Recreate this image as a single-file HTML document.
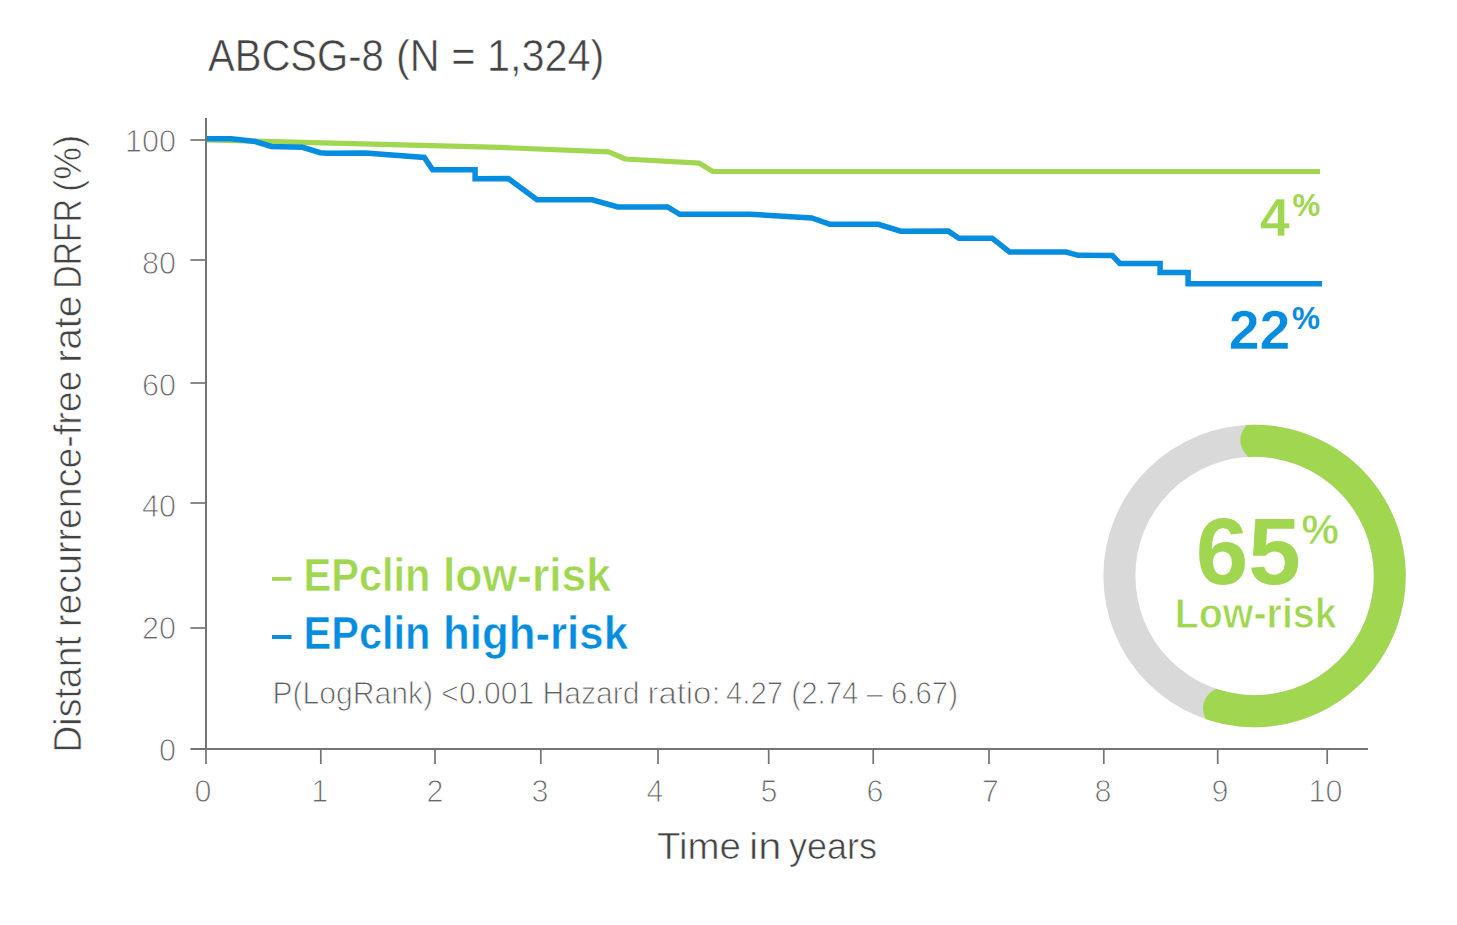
<!DOCTYPE html>
<html>
<head>
<meta charset="utf-8">
<style>
html,body{margin:0;padding:0;background:#fff;width:1457px;height:925px;overflow:hidden;}
svg{display:block;}
text{font-family:"Liberation Sans", sans-serif;}
</style>
</head>
<body>
<svg width="1457" height="925" viewBox="0 0 1457 925">
  <!-- title -->
  <g font-size="45" fill="#444" stroke="#fff" stroke-width="0.55">
    <text id="t1" x="208.0" y="70.7" textLength="175.8" lengthAdjust="spacingAndGlyphs">ABCSG-8</text>
    <text id="t2" x="396.0" y="70.7" textLength="208.4" lengthAdjust="spacingAndGlyphs">(N = 1,324)</text>
  </g>

  <!-- y axis title -->
  <g transform="translate(81.3,0) rotate(-90)" font-size="38.3" fill="#444" stroke="#fff" stroke-width="0.65">
    <text id="yt1" x="-752.8" y="0" textLength="116.8" lengthAdjust="spacingAndGlyphs">Distant</text>
    <text id="yt2" x="-627.0" y="0" textLength="256.4" lengthAdjust="spacingAndGlyphs">recurrence-free</text>
    <text id="yt3" x="-362.8" y="0" textLength="67.2" lengthAdjust="spacingAndGlyphs">rate</text>
    <text id="yt4" x="-288.8" y="0" textLength="89.6" lengthAdjust="spacingAndGlyphs">DRFR</text>
    <text id="yt5" x="-192.0" y="0" textLength="57.2" lengthAdjust="spacingAndGlyphs">(%)</text>
  </g>

  <!-- axes -->
  <g stroke="#747474" stroke-width="2" fill="none">
    <line x1="206" y1="118" x2="206" y2="750"/>
    <line x1="190.4" y1="749" x2="1368" y2="749"/>
  </g>
  <g stroke="#747474" stroke-width="1.7" fill="none">
    <line x1="190.4" y1="140" x2="206" y2="140"/>
    <line x1="190.4" y1="260" x2="206" y2="260"/>
    <line x1="190.4" y1="383" x2="206" y2="383"/>
    <line x1="190.4" y1="503" x2="206" y2="503"/>
    <line x1="190.4" y1="628" x2="206" y2="628"/>
    <line x1="206" y1="749" x2="206" y2="764"/>
    <line x1="320.8" y1="749" x2="320.8" y2="764"/>
    <line x1="435" y1="749" x2="435" y2="764"/>
    <line x1="540.8" y1="749" x2="540.8" y2="764"/>
    <line x1="658" y1="749" x2="658" y2="764"/>
    <line x1="768.7" y1="749" x2="768.7" y2="764"/>
    <line x1="873.2" y1="749" x2="873.2" y2="764"/>
    <line x1="989" y1="749" x2="989" y2="764"/>
    <line x1="1103.8" y1="749" x2="1103.8" y2="764"/>
    <line x1="1217.7" y1="749" x2="1217.7" y2="764"/>
    <line x1="1327.2" y1="749" x2="1327.2" y2="764"/>
  </g>

  <!-- y tick labels -->
  <g font-size="30.5" fill="#686868" stroke="#fff" stroke-width="0.9" text-anchor="end">
    <text x="176" y="151.8">100</text>
    <text x="176" y="274.3">80</text>
    <text x="176" y="395.7">60</text>
    <text x="176" y="517">40</text>
    <text x="176" y="639">20</text>
    <text x="176" y="760.8">0</text>
  </g>
  <!-- x tick labels -->
  <g font-size="30.5" fill="#686868" stroke="#fff" stroke-width="0.9" text-anchor="middle">
    <text x="203" y="802">0</text>
    <text x="319.7" y="802">1</text>
    <text x="435" y="802">2</text>
    <text x="540" y="802">3</text>
    <text x="655" y="802">4</text>
    <text x="769" y="802">5</text>
    <text x="875" y="802">6</text>
    <text x="990.5" y="802">7</text>
    <text x="1103" y="802">8</text>
    <text x="1220" y="802">9</text>
    <text x="1325.5" y="802">10</text>
  </g>

  <!-- x axis title -->
  <g font-size="37.5" fill="#444" stroke="#fff" stroke-width="0.6">
    <text id="xt1" x="657.0" y="859" textLength="84.0" lengthAdjust="spacingAndGlyphs">Time</text>
    <text id="xt2" x="749.0" y="859" textLength="32.4" lengthAdjust="spacingAndGlyphs">in</text>
    <text id="xt3" x="789.0" y="859" textLength="88.0" lengthAdjust="spacingAndGlyphs">years</text>
  </g>

  <!-- curves -->
  <polyline fill="none" stroke="#a0d650" stroke-width="5.2" stroke-linejoin="round"
    points="207,140 500,147.4 608.7,151.9 625.3,159 699.3,163.2 712.9,171.5 1320,171.5"/>
  <polyline fill="none" stroke="#078de0" stroke-width="5.5" stroke-linejoin="miter"
    points="207,138.8 231.2,138.8 255.3,141.5 271.4,146.4 302.6,147.3 320.4,152.7 326.9,153.3 365.3,153.1 424.3,157.5 432.6,169.8 475.1,169.8 475.1,178.7 508.3,178.6 537,199.8 592.1,199.8 617.8,207 667.6,207 679.7,214.3 749.8,214.2 811.7,218 829.9,224.3 878.2,224.3 900.8,231.2 948.3,231.1 958.9,238.2 992.1,238.2 1009.5,252 1066.1,252 1078.2,255.3 1112.4,255.6 1119.8,263.4 1160.1,263.4 1160.1,272.6 1188.1,272.6 1188.1,283.7 1322,283.7"/>

  <!-- end percentages -->
  <text id="p4" x="1260.0" y="236" font-size="54" font-weight="bold" fill="#a0d650" stroke="#fff" stroke-width="0.4" textLength="29.8" lengthAdjust="spacingAndGlyphs">4</text>
  <text id="pp4" x="1292.4" y="215.8" font-size="31" font-weight="bold" fill="#a0d650" textLength="27.8" lengthAdjust="spacingAndGlyphs">%</text>
  <text id="p22" x="1228.8" y="348.8" font-size="55" font-weight="bold" fill="#078de0" stroke="#fff" stroke-width="0.5" textLength="61.6" lengthAdjust="spacingAndGlyphs">22</text>
  <text id="pp22" x="1292.0" y="329.2" font-size="31" font-weight="bold" fill="#078de0" textLength="28.0" lengthAdjust="spacingAndGlyphs">%</text>

  <!-- legend -->
  <rect x="272" y="577" width="19.5" height="3.8" fill="#a0d650"/>
  <g font-size="45.5" font-weight="bold" fill="#a0d650" stroke="#fff" stroke-width="0.55">
  <text x="303.5" y="590.8" textLength="127" lengthAdjust="spacingAndGlyphs">EPclin</text>
  <text x="443" y="590.8" textLength="168" lengthAdjust="spacingAndGlyphs">low-risk</text>
  </g>
  <rect x="272" y="635" width="19.5" height="4" fill="#078de0"/>
  <g font-size="45.5" font-weight="bold" fill="#078de0" stroke="#fff" stroke-width="0.55">
  <text x="303.5" y="648.5" textLength="127" lengthAdjust="spacingAndGlyphs">EPclin</text>
  <text x="443" y="648.5" textLength="185" lengthAdjust="spacingAndGlyphs">high-risk</text>
  </g>
  <g font-size="31.5" fill="#606060" stroke="#fff" stroke-width="0.9">
  <text x="272.5" y="703.5" textLength="367" lengthAdjust="spacingAndGlyphs">P(LogRank) &lt;0.001 Hazard</text>
  <text x="647.5" y="703.5" textLength="73" lengthAdjust="spacingAndGlyphs">ratio:</text>
  <text x="726" y="703.5" textLength="232" lengthAdjust="spacingAndGlyphs">4.27 (2.74 – 6.67)</text>
  </g>

  <!-- donut -->
  <circle cx="1254.6" cy="576" r="135.2" fill="none" stroke="#d9d9d9" stroke-width="32"/>
  <path id="arc" fill="#a0d650" d="M1246.4,425.0 A151.2,151.2 0 1 1 1205.4,719.0 Q1197.3,699.3 1215.8,688.7 A119.2,119.2 0 1 0 1248.2,457.0 Q1233.3,441.8 1246.4,425.0 Z"/>
  <text x="1195.8" y="584.2" font-size="94.5" font-weight="bold" fill="#a0d650">65</text>
  <text x="1301.5" y="543.9" font-size="42" font-weight="bold" fill="#a0d650" stroke="#fff" stroke-width="0.5">%</text>
  <text id="lowr" x="1174.8" y="627.6" font-size="42" fill="#a0d650" textLength="161.8" lengthAdjust="spacingAndGlyphs" font-weight="bold" stroke="#fff" stroke-width="0.8">Low-risk</text>
</svg>
</body>
</html>
